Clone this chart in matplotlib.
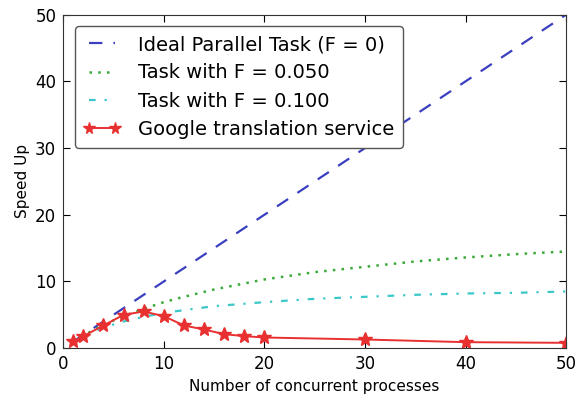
import matplotlib
matplotlib.use("Agg")
import matplotlib.pyplot as plt

# ideal speedup
ideal_n = [1, 50]
ideal_s = [1, 50]

# Amdahl curves, sampled
amd_n = [1, 2, 4, 6, 8, 10, 12, 15, 20, 25, 30, 35, 40, 45, 50]
amd_f05 = [1.0, 1.9, 3.5, 4.8, 5.9, 6.9, 7.7, 8.8, 10.3, 11.4, 12.2, 13.0, 13.6, 14.1, 14.5]
amd_f10 = [1.0, 1.8, 3.1, 4.0, 4.7, 5.3, 5.7, 6.3, 6.9, 7.4, 7.7, 8.0, 8.2, 8.3, 8.5]

# measured google translation service
g_n = [1, 2, 4, 6, 8, 10, 12, 14, 16, 18, 20, 30, 40, 50]
g_s = [1.0, 1.8, 3.4, 5.0, 5.5, 4.8, 3.4, 2.8, 2.1, 1.8, 1.6, 1.3, 0.9, 0.8]

plt.rcParams['font.family'] = 'DejaVu Sans'
fig = plt.figure(figsize=(5.8, 3.97), dpi=100)
ax = fig.add_axes([0.109, 0.123, 0.867, 0.84])

ax.plot(ideal_n, ideal_s, color='#3a3fc0', lw=1.6, dashes=(6, 5),
        label='Ideal Parallel Task (F = 0)')
ax.plot(amd_n, amd_f05, color='#3aaa3a', lw=1.8, dashes=(1, 2.5),
        label='Task with F = 0.050')
ax.plot(amd_n, amd_f10, color='#3cc8c8', lw=1.6, dashes=(3, 4, 1, 4),
        label='Task with F = 0.100')
ax.plot(g_n, g_s, '-*', color='#e83030', lw=1.4, ms=10, mec='#e83030',
        label='Google translation service')

ax.set_xlim(0, 50)
ax.set_ylim(0, 50)
ax.set_xticks(range(0, 51, 10))
ax.set_yticks(range(0, 51, 10))
ax.tick_params(direction='in', top=True, right=True, labelsize=12, length=5, pad=5)
ax.set_xlabel('Number of concurrent processes', fontsize=11)
ax.set_ylabel('Speed Up', fontsize=11)
for s in ax.spines.values():
    s.set_color('#333333')

leg = ax.legend(loc='upper left', fontsize=14, handlelength=1.9, handletextpad=0.9,
                borderpad=0.45, labelspacing=0.48, numpoints=2, fancybox=True,
                framealpha=1, borderaxespad=0.6, markerscale=0.85)
leg.get_frame().set_edgecolor('#555555')

fig.savefig('out.png', dpi=100)
